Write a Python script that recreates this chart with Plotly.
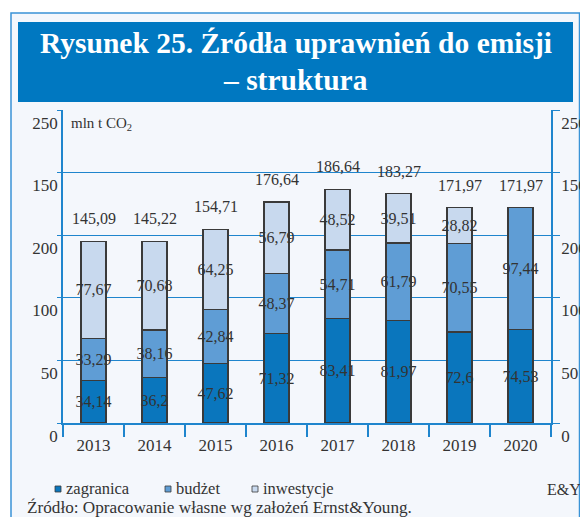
import plotly.graph_objects as go

# ---- data ----
years = ["2013", "2014", "2015", "2016", "2017", "2018", "2019", "2020"]
zagranica = [34.14, 36.2, 47.62, 71.32, 83.41, 81.97, 72.6, 74.53]
budzet = [33.29, 38.16, 42.84, 48.37, 54.71, 61.79, 70.55, 97.44]
inwestycje = [77.67, 70.68, 64.25, 56.79, 48.52, 39.51, 28.82, None]
totals = [145.09, 145.22, 154.71, 176.64, 186.64, 183.27, 171.97, 171.97]
tick_vals = [0, 50, 100, 150, 200, 250]
tick_text = ["0", "50", "100", "200", "150", "250"]
series_names = ["zagranica", "budżet", "inwestycje"]
series_colors = ["#0a76bd", "#5f9dd5", "#c8d9ee"]

W, H = 580, 517
L, R, T, B = 63, 551, 110, 423
FONT = "Liberation Serif"
TXT = "#333333"
BLUE = "#1f85cd"
BG = "#f4f7fc"


def fmt(v):
    return ("%g" % v).replace(".", ",")


def px(xp):  # screen x pixel -> paper
    return (xp - L) / (R - L)


def py(yp):  # screen y pixel -> paper
    return (B - yp) / (B - T)


fig = go.Figure()
for name, vals, col in zip(series_names, [zagranica, budzet, inwestycje], series_colors):
    fig.add_trace(go.Bar(
        x=years, y=vals, name=name, width=0.41,
        marker=dict(color=col, line=dict(color="#3a3a3a", width=1.3)),
        text=[fmt(v) if v is not None else " " for v in vals],
        textposition="inside", insidetextanchor="middle",
        constraintext="none", textangle=0,
        textfont=dict(family=FONT, size=16, color=TXT),
        showlegend=False, hoverinfo="skip",
    ))

# invisible trace for the right axis
fig.add_trace(go.Scatter(x=years, y=totals, yaxis="y2", mode="markers",
                         marker=dict(opacity=0, size=1),
                         showlegend=False, hoverinfo="skip"))

annotations = []
for i, tot in enumerate(totals):
    annotations.append(dict(x=i, y=tot, xref="x", yref="y", text=fmt(tot),
                            showarrow=False, yanchor="bottom", yshift=12,
                            font=dict(family=FONT, size=16, color=TXT)))

# title
annotations.append(dict(x=px(295.5), y=py(43), xref="paper", yref="paper",
                        text="<b>Rysunek 25. Źródła uprawnień do emisji</b>",
                        showarrow=False, xanchor="center", yanchor="middle",
                        font=dict(family=FONT, size=29.5, color="white")))
annotations.append(dict(x=px(295.5), y=py(80), xref="paper", yref="paper",
                        text="<b>– struktura</b>",
                        showarrow=False, xanchor="center", yanchor="middle",
                        font=dict(family=FONT, size=29.5, color="white")))
# unit label
annotations.append(dict(x=px(69), y=py(124), xref="paper", yref="paper",
                        text="mln t CO<sub>2</sub>", showarrow=False,
                        xanchor="left", yanchor="middle",
                        font=dict(family=FONT, size=15, color=TXT)))
# E&Y
annotations.append(dict(x=px(545), y=py(489), xref="paper", yref="paper",
                        text="E&amp;Y", showarrow=False, xanchor="left", yanchor="middle",
                        font=dict(family=FONT, size=16, color=TXT)))
# source
annotations.append(dict(x=px(25), y=py(508), xref="paper", yref="paper",
                        text="Źródło: Opracowanie własne wg założeń Ernst&amp;Young.",
                        showarrow=False, xanchor="left", yanchor="middle",
                        font=dict(family=FONT, size=17.2, color=TXT)))

shapes = [
    # outer frame
    dict(type="rect", xref="paper", yref="paper", x0=px(11), x1=px(579.5), y0=py(540), y1=py(13),
         fillcolor=BG, line=dict(color="#3a93d6", width=1.5), layer="below"),
    # title band
    dict(type="rect", xref="paper", yref="paper", x0=px(18), x1=px(573), y0=py(102), y1=py(22),
         fillcolor="#0078c1", line=dict(width=0), layer="below"),
]

# manual legend
leg_sq_x = [55, 165, 252]
for name, col, sx in zip(series_names, series_colors, leg_sq_x):
    shapes.append(dict(type="rect", xref="paper", yref="paper",
                       x0=px(sx), x1=px(sx + 6), y0=py(492), y1=py(486),
                       fillcolor=col, line=dict(color="#3a3a3a", width=0.8)))
    annotations.append(dict(x=px(sx + 9), y=py(488), xref="paper", yref="paper",
                            text=name, showarrow=False, xanchor="left", yanchor="middle",
                            font=dict(family=FONT, size=16.5, color=TXT)))

axis_font = dict(family=FONT, size=17, color=TXT)
fig.update_layout(
    width=W, height=H,
    margin=dict(l=L, r=W - R, t=T, b=H - B, autoexpand=False),
    paper_bgcolor="white", plot_bgcolor=BG,
    barmode="stack",
    showlegend=False,
    xaxis=dict(type="category", range=[-0.5, len(years) - 0.5],
               showline=True, linecolor=BLUE, linewidth=1.5,
               ticks="outside", tickson="boundaries", ticklen=12, tickcolor=BLUE,
               tickwidth=1.5, tickfont=axis_font, showgrid=False, tickangle=0,
               ticklabelstandoff=6, automargin=False),
    yaxis=dict(range=[0, 250], tickvals=tick_vals, ticktext=tick_text,
               showline=True, linecolor=BLUE, linewidth=1.5,
               showgrid=True, gridcolor=BLUE, gridwidth=1.3,
               ticks="outside", ticklen=4, tickcolor=BLUE, tickwidth=1.3,
               ticklabelposition="outside bottom", automargin=False,
               tickfont=axis_font, zeroline=False),
    yaxis2=dict(range=[0, 250], tickvals=tick_vals, ticktext=tick_text,
                overlaying="y", side="right", anchor="x",
                showline=True, linecolor=BLUE, linewidth=1.5, showgrid=False,
                ticks="outside", ticklen=7, tickcolor=BLUE, tickwidth=1.3,
                ticklabelposition="outside bottom", automargin=False,
                ticklabelstandoff=5,
                tickfont=axis_font, zeroline=False),
    annotations=annotations,
    shapes=shapes,
)

fig.write_html(
    "out.html",
    config={"displayModeBar": False},
    post_script=("document.body.style.margin='0';"
                 "document.body.style.overflow='hidden';"
                 "document.documentElement.style.overflow='hidden';"),
)
